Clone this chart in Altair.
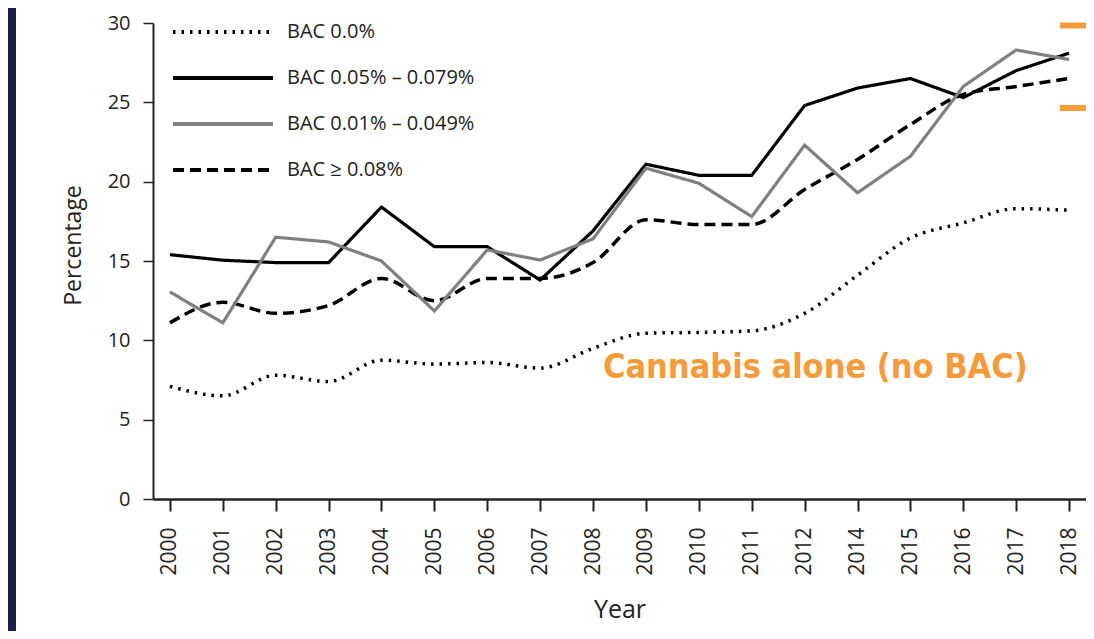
import altair as alt
import pandas as pd

years = ["2000", "2001", "2002", "2003", "2004", "2005", "2006", "2007", "2008",
         "2009", "2010", "2011", "2012", "2014", "2015", "2016", "2017", "2018"]

series_names = ["BAC 0.0%", "BAC 0.05% \u2013 0.079%", "BAC 0.01% \u2013 0.049%", "BAC \u2265 0.08%"]

bac_000 = [7.1, 6.5, 7.8, 7.4, 8.75, 8.5, 8.6, 8.25, 9.5, 10.45, 10.5, 10.6, 11.7, 14.1, 16.45, 17.4, 18.3, 18.2]
bac_005 = [15.4, 15.05, 14.9, 14.9, 18.4, 15.9, 15.9, 13.8, 16.9, 21.1, 20.4, 20.4, 24.8, 25.9, 26.5, 25.3, 27.0, 28.1]
bac_001 = [13.05, 11.1, 16.5, 16.2, 15.0, 11.85, 15.7, 15.06, 16.4, 20.85, 19.9, 17.8, 22.3, 19.3, 21.6, 26.0, 28.3, 27.7]
bac_008 = [11.1, 12.4, 11.7, 12.2, 13.9, 12.5, 13.9, 13.9, 14.9, 17.6, 17.3, 17.3, 19.5, 21.4, 23.6, 25.5, 26.0, 26.5]

annotation_text = "Cannabis alone (no BAC)"
bracket_values = [29.85, 24.65]

rows = []
for name, vals in zip(series_names, [bac_000, bac_005, bac_001, bac_008]):
    for yr, v in zip(years, vals):
        rows.append({"Year": yr, "Percentage": v, "Series": name})
df = pd.DataFrame(rows)

FONT = "Open Sans"
NAVY = "#1c1d4a"
ORANGE = "#f79a3a"

color_scale = alt.Scale(domain=series_names, range=["black", "black", "#808080", "black"])
dash_scale = alt.Scale(domain=series_names, range=[[2.5, 6], [1, 0], [1, 0], [11, 6]])

x_enc = alt.X("Year:O", sort=years,
              scale=alt.Scale(type="point", padding=0.32),
              axis=alt.Axis(title="Year", labelAngle=-90, labelFontSize=21, labelFont=FONT,
                            labelColor="#222", titleFont=FONT, titleFontSize=25,
                            titleFontWeight="normal", titleColor="#222", titlePadding=22,
                            domainColor="#222", domainWidth=2.5, tickColor="#222",
                            tickWidth=2, tickSize=12, labelPadding=16, zindex=2))
y_enc = alt.Y("Percentage:Q", scale=alt.Scale(domain=[0, 30], nice=False),
              axis=alt.Axis(title="Percentage", values=[0, 5, 10, 15, 20, 25, 30], labelFontSize=20,
                            labelFont=FONT, labelColor="#222", titleFont=FONT, titleFontSize=23,
                            titleFontWeight="normal", titleColor="#222",
                            titleX=-80, titleY=222, titleBaseline="middle", titleAngle=270,
                            domainColor="#222", domainWidth=2, tickColor="#222", tickWidth=1.5,
                            tickSize=10, labelPadding=13, grid=False, zindex=2))

legend = alt.Legend(title=None, orient="none", legendX=43, legendY=-18,
                    symbolType="M-2,0L2,0", symbolSize=2500, symbolStrokeWidth=4,
                    labelFont=FONT, labelFontSize=20, labelColor="#222", rowPadding=9,
                    labelOffset=37, labelLimit=400, zindex=2)

base = alt.Chart(df).encode(
    x=x_enc,
    y=y_enc,
    color=alt.Color("Series:N", scale=color_scale, sort=series_names, legend=legend),
    strokeDash=alt.StrokeDash("Series:N", scale=dash_scale, sort=series_names, legend=legend),
)

smooth = base.transform_filter(
    alt.FieldOneOfPredicate(field="Series", oneOf=[series_names[0], series_names[3]])
).mark_line(interpolate="monotone", strokeWidth=3.5, strokeCap="butt")

straight = base.transform_filter(
    alt.FieldOneOfPredicate(field="Series", oneOf=[series_names[2], series_names[1]])
).mark_line(interpolate="linear", strokeWidth=3.2)

panel = alt.Chart(pd.DataFrame({"a": [0]})).mark_rect(color="white").encode(
    x=alt.value(-137), x2=alt.value(1000), y=alt.value(-15), y2=alt.value(700))

label = alt.Chart(pd.DataFrame({"t": [annotation_text]})).mark_text(
    font="'DejaVu Sans Condensed', 'Roboto Condensed', 'Liberation Sans Narrow', Roboto",
    fontWeight="bold", fontSize=34, color=ORANGE,
    align="left", baseline="alphabetic").encode(
    text="t:N", x=alt.value(450), y=alt.value(355))

bracket = alt.Chart(pd.DataFrame({"v": bracket_values})).mark_rule(
    color=ORANGE, strokeWidth=6).encode(
    y=alt.Y("v:Q", scale=alt.Scale(domain=[0, 30], nice=False)),
    x=alt.value(907), x2=alt.value(960))

chart = alt.layer(panel, smooth, straight, label, bracket).properties(
    width=933, height=476, autosize="none",
    padding={"left": 145, "top": 15, "right": 0, "bottom": 132},
    background=NAVY,
).configure_view(stroke=None).configure_axis(grid=False)

chart.save("out.html", embed_options={"renderer": "svg", "actions": False})
